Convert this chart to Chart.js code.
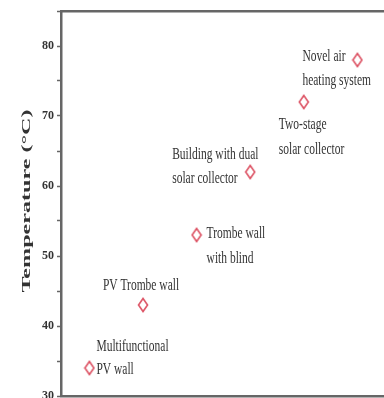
<!DOCTYPE html>
<html lang="en">
<head>
<meta charset="UTF-8">
<title>Temperature</title>
<style>
  html, body { margin: 0; padding: 0; background: #fff; overflow: hidden; }
  #wrap { width: 384px; height: 398px; overflow: hidden; }
</style>
</head>
<body>
<div id="wrap"><canvas id="myChart" width="420" height="420"></canvas></div>

<script src="https://cdn.jsdelivr.net/npm/chart.js"></script>
<script>
  // systems along the x axis, left to right
  let v_systems = ['Multifunctional PV wall', 'PV Trombe wall', 'Trombe wall with blind',
    'Building with dual solar collector', 'Two-stage solar collector', 'Novel air heating system'];
  // how each name is broken over lines next to its marker
  let v_labelLines = [
    ['Multifunctional', 'PV wall'],
    ['PV Trombe wall'],
    ['Trombe wall', 'with blind'],
    ['Building with dual', 'solar collector'],
    ['Two-stage', 'solar collector'],
    ['Novel air', 'heating system']
  ];
  // temperature reached (°C)
  let v_temps = [34, 43, 53, 62, 72, 78];
  // labelled y ticks
  let v_yTicks = [30, 40, 50, 60, 70, 80];

  // where each label sits relative to its marker
  let v_labelPos = [
    { dx: 7, dy: [-21, 2], align: 'left' },
    { dx: -2, dy: [-19], align: 'center' },
    { dx: 10, dy: [-1, 24], align: 'left' },
    { dx: -78, dy: [-17, 7], align: 'left' },
    { dx: -25, dy: [23, 48], align: 'left' },
    { dx: -55, dy: [-3, 21], align: 'left' }
  ];

  const SERIF = '"Liberation Serif", "Times New Roman", serif';
  const TEXT = '#333';
  const AXIS = '#666';

  // open red diamond, taller than wide
  function makeDiamond() {
    let c = document.createElement('canvas');
    c.width = 12; c.height = 16;
    let g = c.getContext('2d');
    g.strokeStyle = '#dd5566';
    g.lineWidth = 1.6;
    g.beginPath();
    g.moveTo(6, 1.5); g.lineTo(10.5, 8); g.lineTo(6, 14.5); g.lineTo(1.5, 8);
    g.closePath();
    g.stroke();
    return c;
  }

  // texts drawn stretched vertically: marker labels and the y title
  const textPlugin = {
    id: 'stretchedText',
    afterDatasetsDraw(chart) {
      let ctx = chart.ctx;
      let meta = chart.getDatasetMeta(0);
      ctx.save();
      ctx.fillStyle = TEXT;
      ctx.font = '11.5px ' + SERIF;
      ctx.textBaseline = 'middle';
      meta.data.forEach((pt, i) => {
        let pos = v_labelPos[i];
        ctx.textAlign = pos.align;
        v_labelLines[i].forEach((line, j) => {
          ctx.save();
          ctx.translate(pt.x + pos.dx, pt.y + pos.dy[j]);
          ctx.scale(1, 1.45);
          ctx.fillText(line, 0, 0);
          ctx.restore();
        });
      });

      // y axis title
      let title = 'Temperature (\u00B0C)';
      ctx.font = 'bold 12px ' + SERIF;
      ctx.textAlign = 'center';
      let w = ctx.measureText(title).width;
      ctx.translate(27, 201);
      ctx.rotate(-Math.PI / 2);
      ctx.scale(183 / w, 1);
      ctx.fillText(title, 0, 0);
      ctx.restore();
    }
  };

  let ctx = document.getElementById('myChart');
  new Chart(ctx, {
    type: 'scatter',
    data: {
      datasets: [{
        label: 'Temperature',
        data: v_temps.map((t, i) => ({ x: i + 1, y: t })),
        pointStyle: makeDiamond(),
        pointRadius: 8
      }]
    },
    options: {
      responsive: false,
      animation: false,
      layout: { padding: 0 },
      plugins: {
        legend: { display: false },
        tooltip: { enabled: false }
      },
      scales: {
        x: {
          type: 'linear',
          min: 0.47,
          max: 7,
          ticks: { display: false },
          grid: { display: false, drawTicks: false },
          border: { color: AXIS, width: 2.5 },
          afterFit: (s) => { s.height = 24; }
        },
        x2: {
          type: 'linear',
          position: 'top',
          min: 0.47,
          max: 7,
          ticks: { display: false },
          grid: { display: false, drawTicks: false },
          border: { color: AXIS, width: 2.5 },
          afterFit: (s) => { s.height = 11; }
        },
        y: {
          min: 30,
          max: 85,
          ticks: {
            stepSize: 5,
            padding: 3,
            color: TEXT,
            font: { family: SERIF, size: 12, weight: 'bold' },
            callback: (v) => v_yTicks.includes(v) ? v : ''
          },
          grid: { drawOnChartArea: false, tickLength: 4, tickColor: AXIS, tickWidth: 1.5 },
          border: { color: AXIS, width: 2.5 },
          afterFit: (s) => { s.width = 61; }
        }
      }
    },
    plugins: [textPlugin]
  });
</script>
</body>
</html>
